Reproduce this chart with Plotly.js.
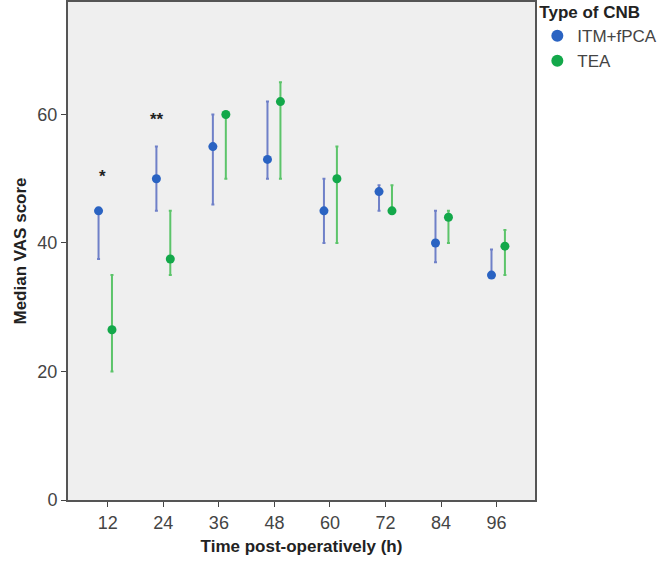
<!DOCTYPE html>
<html>
<head>
<meta charset="utf-8">
<script src="https://cdn.plot.ly/plotly-3.0.1.min.js"></script>
<style>html,body{margin:0;padding:0;background:#fff;}#chart{width:670px;height:562px;}</style>
</head>
<body>
<div id="chart"></div>
<script>
const timeTicks = [12, 24, 36, 48, 60, 72, 84, 96];
const itmX = [10.0, 22.5, 34.7, 46.5, 58.7, 70.6, 82.8, 94.9];
const itmMedian = [45, 50, 55, 53, 45, 48, 40, 35];
const itmUpper = [45, 55, 60, 62, 50, 49, 45, 39];
const itmLower = [37.5, 45, 46, 50, 40, 45, 37, 35];
const teaX = [12.9, 25.5, 37.5, 49.3, 61.5, 73.4, 85.6, 97.8];
const teaMedian = [26.5, 37.5, 60, 62, 50, 45, 44, 39.5];
const teaUpper = [35, 45, 60, 65, 55, 49, 45, 42];
const teaLower = [20, 35, 50, 50, 40, 45, 40, 35];
const sigLabels = ['*', '**'];
const sigX = [10.9, 22.7];
const sigY = [50.3, 59.2];

const up = (u, m) => u.map((v, i) => v - m[i]);
const down = (l, m) => m.map((v, i) => v - l[i]);

const traces = [
  {
    type: 'scatter', mode: 'markers', name: 'ITM+fPCA',
    x: itmX, y: itmMedian,
    marker: {color: '#2a63c2', size: 9},
    error_y: {type: 'data', symmetric: false, array: up(itmUpper, itmMedian), arrayminus: down(itmLower, itmMedian), color: '#6f80c8', thickness: 2, width: 1.5}
  },
  {
    type: 'scatter', mode: 'markers', name: 'TEA',
    x: teaX, y: teaMedian,
    marker: {color: '#13a84a', size: 9},
    error_y: {type: 'data', symmetric: false, array: up(teaUpper, teaMedian), arrayminus: down(teaLower, teaMedian), color: '#5cc46a', thickness: 2, width: 1.5}
  }
];

const annotations = sigLabels.map((t, i) => ({
  x: sigX[i], y: sigY[i], text: '<b>' + t + '</b>', showarrow: false,
  font: {family: 'Liberation Sans, Arial, sans-serif', size: 17, color: '#222'}
}));

const layout = {
  width: 670, height: 562,
  margin: {l: 68, r: 135, t: 2, b: 62, autoexpand: false},
  paper_bgcolor: '#ffffff',
  plot_bgcolor: '#efefef',
  font: {family: 'Liberation Sans, Arial, sans-serif', size: 18, color: '#444'},
  showlegend: true,
  legend: {
    x: 1.005, xanchor: 'left', y: 1.012, yanchor: 'top',
    title: {text: '<b>Type of CNB</b>', font: {size: 17, color: '#222'}},
    font: {size: 17, color: '#444'},
    itemsizing: 'constant', tracegroupgap: 0, itemwidth: 30,
    bgcolor: 'rgba(0,0,0,0)'
  },
  xaxis: {
    range: [3.4, 104.3],
    tickvals: timeTicks, ticktext: timeTicks.map(String),
    ticks: 'outside', ticklen: 5, tickcolor: '#444',
    tickfont: {size: 18, color: '#444'},
    showgrid: false, zeroline: false,
    showline: true, linecolor: '#555', linewidth: 2, mirror: true,
    title: {text: '<b>Time post-operatively (h)</b>', font: {size: 17, color: '#222'}, standoff: 9}
  },
  yaxis: {
    range: [0, 77.5],
    tickvals: [0, 20, 40, 60],
    ticks: 'outside', ticklen: 5, tickcolor: '#444',
    tickfont: {size: 18, color: '#444'},
    showgrid: false, zeroline: false,
    showline: true, linecolor: '#555', linewidth: 2, mirror: true,
    title: {text: '<b>Median VAS score</b>', font: {size: 17, color: '#222'}, standoff: 6}
  },
  annotations: annotations
};

Plotly.newPlot('chart', traces, layout, {displayModeBar: false, staticPlot: true});
</script>
</body>
</html>
